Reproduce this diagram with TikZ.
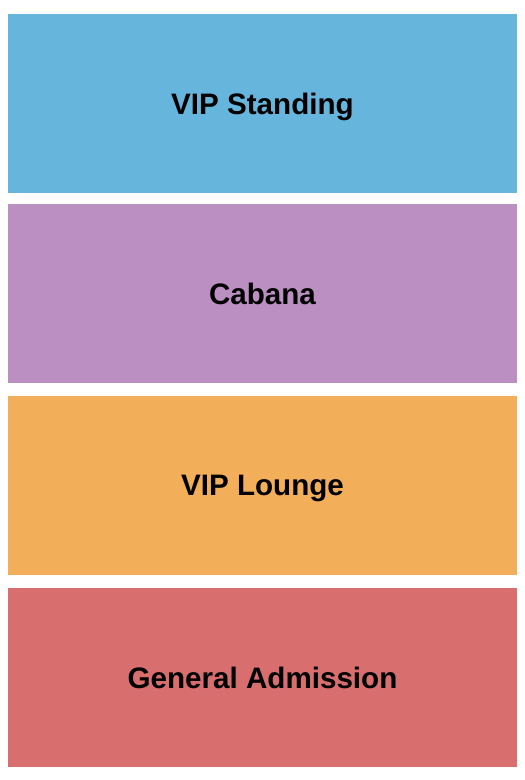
\documentclass[tikz,border=0pt]{standalone}
\usepackage{fontspec}
\setmainfont{Liberation Sans}
\usetikzlibrary{positioning}
\definecolor{vipblue}{HTML}{66B5DC}
\definecolor{cabanapurple}{HTML}{BC8FC2}
\definecolor{loungeorange}{HTML}{F3AE5A}
\definecolor{gared}{HTML}{D86E6E}
\tikzset{section/.style={rectangle,inner sep=0pt,minimum width=509pt,minimum height=179pt,text height=21pt,text depth=0pt,font=\fontsize{29.6}{34}\selectfont\bfseries,text=black}}

\begin{document}
\begin{tikzpicture}[x=1pt,y=1pt,node distance=12pt]
                \useasboundingbox (0,0) rectangle (525,-780);
                \node[section,fill=vipblue] (vip) at (262.5,-103.5) {VIP Standing};
                \node[section,fill=cabanapurple] (cabana) [below=11pt of vip] {Cabana};
                \node[section,fill=loungeorange] (lounge) [below=12pt of cabana] {VIP Lounge};
                \node[section,fill=gared] (ga) [below=13pt of lounge] {General Admission};
            \end{tikzpicture}
\end{document}
